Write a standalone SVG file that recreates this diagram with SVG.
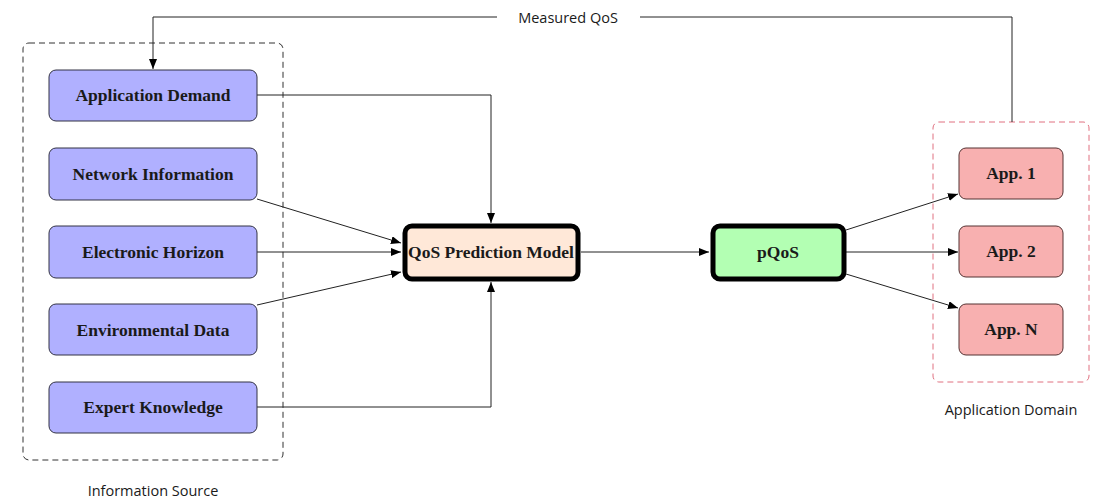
<svg xmlns="http://www.w3.org/2000/svg" width="1100" height="502" viewBox="0 0 1100 502">
<style>
.src rect{fill:#b0b0ff;stroke:#333344;stroke-width:1}
.app rect{fill:#f8b0b0;stroke:#553333;stroke-width:1}
.nt{font-family:"Liberation Serif",serif;font-weight:bold;font-size:17.5px;fill:#1a1a1a;text-anchor:middle;dominant-baseline:central}
.lbl{font-family:"Open Sans","DejaVu Sans",sans-serif;font-size:14.5px;fill:#1a1a1a;text-anchor:middle}
.edge{fill:none;stroke:#222;stroke-width:1;marker-end:url(#ah)}
.line{fill:none;stroke:#222;stroke-width:1}
</style>
<defs>
<marker id="ah" viewBox="0 0 10 8" refX="10" refY="4" markerWidth="10" markerHeight="8" markerUnits="userSpaceOnUse" orient="auto">
<path d="M0,0 L10,4 L0,8 Z" fill="#000"/>
</marker>
</defs>
<rect width="1100" height="502" fill="#fff"/>
<g id="group-information-source">
<rect x="23" y="43" width="260" height="417" rx="6" fill="none" stroke="#333" stroke-width="1" stroke-dasharray="6,4"/>
<text class="lbl" x="153" y="496">Information Source</text>
</g>
<g id="group-application-domain">
<rect x="933" y="122" width="156" height="260" rx="6" fill="none" stroke="#e07080" stroke-width="1" stroke-dasharray="6,4"/>
<text class="lbl" x="1011" y="415">Application Domain</text>
</g>
<g id="connectors">
<polyline class="line" points="1012,122 1012,17 640,17"/>
<polyline class="edge" points="497,17 153,17 153,69"/>
<text class="lbl" x="568" y="23">Measured QoS</text>
<polyline class="edge" points="257,95 491,95 491,223"/>
<polyline class="edge" points="257,407 491,407 491,282"/>
<line class="edge" x1="257" y1="199" x2="401" y2="243"/>
<line class="edge" x1="257" y1="252" x2="401" y2="252"/>
<line class="edge" x1="257" y1="305" x2="401" y2="272"/>
<line class="edge" x1="581" y1="252" x2="709" y2="252"/>
<line class="edge" x1="846" y1="230" x2="958" y2="194"/>
<line class="edge" x1="846" y1="252" x2="958" y2="252"/>
<line class="edge" x1="846" y1="274" x2="958" y2="308"/>
</g>
<g id="node-application-demand" class="src"><rect x="49" y="70" width="208" height="51" rx="7"/><text class="nt" x="153" y="95">Application Demand</text></g>
<g id="node-network-information" class="src"><rect x="49" y="148" width="208" height="52" rx="7"/><text class="nt" x="153" y="174">Network Information</text></g>
<g id="node-electronic-horizon" class="src"><rect x="49" y="226" width="208" height="52" rx="7"/><text class="nt" x="153" y="252">Electronic Horizon</text></g>
<g id="node-environmental-data" class="src"><rect x="49" y="304" width="208" height="51" rx="7"/><text class="nt" x="153" y="330">Environmental Data</text></g>
<g id="node-expert-knowledge" class="src"><rect x="49" y="382" width="208" height="51" rx="7"/><text class="nt" x="153" y="407">Expert Knowledge</text></g>
<g id="node-qos-prediction-model"><rect x="405" y="226" width="173" height="53" rx="7" fill="#ffe8d8" stroke="#000" stroke-width="5"/><text class="nt" x="491" y="252">QoS Prediction Model</text></g>
<g id="node-pqos"><rect x="713" y="226" width="131" height="53" rx="7" fill="#b3ffb3" stroke="#000" stroke-width="5"/><text class="nt" x="778" y="252">pQoS</text></g>
<g id="node-app-1" class="app"><rect x="959" y="148" width="104" height="51" rx="7"/><text class="nt" x="1011" y="173">App. 1</text></g>
<g id="node-app-2" class="app"><rect x="959" y="226" width="104" height="51" rx="7"/><text class="nt" x="1011" y="251">App. 2</text></g>
<g id="node-app-n" class="app"><rect x="959" y="304" width="104" height="51" rx="7"/><text class="nt" x="1011" y="329">App. N</text></g>
</svg>
